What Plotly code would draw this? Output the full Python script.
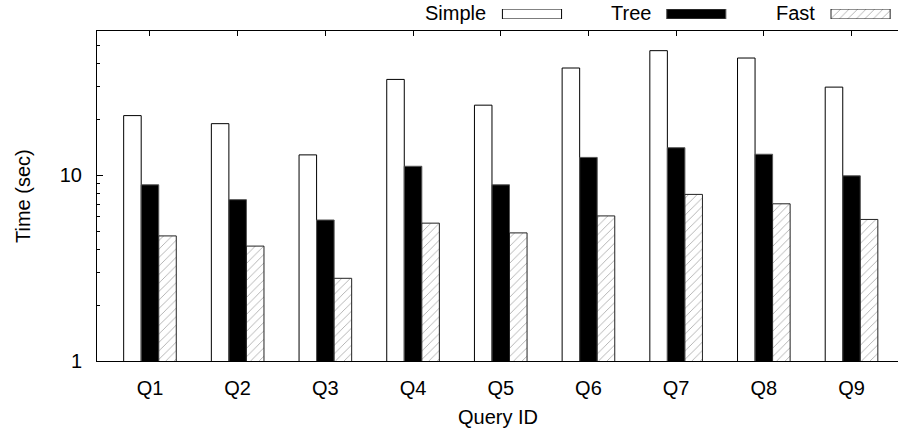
import plotly.graph_objects as go

# ---- data ----
queries = ["Q1", "Q2", "Q3", "Q4", "Q5", "Q6", "Q7", "Q8", "Q9"]
simple_times = [21.0, 19.0, 12.9, 32.9, 23.9, 37.9, 47.0, 42.9, 29.9]
tree_times = [8.9, 7.4, 5.75, 11.2, 8.9, 12.5, 14.1, 13.0, 9.95]
fast_times = [4.72, 4.16, 2.79, 5.53, 4.9, 6.05, 7.9, 7.03, 5.79]
series_names = ["Simple", "Tree", "Fast"]
y_major_ticks = [1, 10]
y_minor_ticks = [2, 3, 4, 5, 6, 7, 8, 9, 20, 30, 40, 50]

FONT = "Liberation Sans, Arial, Helvetica, sans-serif"
FS = 20

styles = {
    "Simple": dict(color="white", line=dict(color="black", width=1)),
    "Tree": dict(color="black", line=dict(color="#555555", width=1)),
    "Fast": dict(color="white", line=dict(color="#222222", width=1),
                 pattern=dict(shape="/", fgcolor="#333333", bgcolor="white",
                              size=6, solidity=0.12, fillmode="overlay")),
}

fig = go.Figure()
for name, vals in zip(series_names, [simple_times, tree_times, fast_times]):
    fig.add_trace(go.Bar(x=queries, y=vals, name=name, marker=styles[name],
                         showlegend=False))

# legend swatches drawn as bars on a small overlay axis above the plot
for i, name in enumerate(series_names):
    fig.add_trace(go.Bar(x=[i], y=[1], base=[0], width=[0.36], marker=styles[name],
                         xaxis="x2", yaxis="y2", showlegend=False, hoverinfo="skip"))
    fig.add_annotation(x=i - 0.18 - 0.085, y=0.5, xref="x2", yref="y2",
                       text=name, showarrow=False, xanchor="right", yanchor="middle",
                       font=dict(family=FONT, size=FS, color="black"), yshift=1)

fig.update_layout(
    width=898, height=431, autosize=False,
    margin=dict(l=97, r=0, t=0, b=70, pad=0),
    paper_bgcolor="white", plot_bgcolor="white",
    barmode="group", bargap=0.4, bargroupgap=0,
    font=dict(family=FONT, size=FS, color="black"),
    xaxis=dict(
        type="category", range=[-0.604, 8.53], anchor="y",
        showline=True, linecolor="black", linewidth=1, mirror="allticks",
        ticks="inside", ticklen=5, tickcolor="black", tickwidth=1,
        showgrid=False, zeroline=False,
        tickfont=dict(family=FONT, size=FS), ticklabelstandoff=9,
    ),
    yaxis=dict(
        type="log", range=[0, 1.778], domain=[0, 0.9141],
        tickvals=y_major_ticks, ticktext=[str(v) for v in y_major_ticks],
        showline=True, linecolor="black", linewidth=1,
        ticks="inside", ticklen=6, tickcolor="black", tickwidth=1,
        minor=dict(tickvals=y_minor_ticks, ticks="inside", ticklen=3,
                   tickcolor="black", tickwidth=1, showgrid=False),
        showgrid=False, zeroline=False,
        tickfont=dict(family=FONT, size=FS), ticklabelstandoff=10,
    ),
    xaxis2=dict(domain=[0.42, 0.9943], range=[-0.6, 2.2], anchor="y2",
                visible=False, fixedrange=True),
    yaxis2=dict(domain=[0.9474, 0.9751], range=[0, 1], anchor="x2",
                visible=False, fixedrange=True),
)

# axis titles
fig.add_annotation(x=0, y=0.5, xref="x domain", yref="y domain", text="Time (sec)",
                   textangle=-90, showarrow=False, xanchor="center", yanchor="middle",
                   xshift=-74, font=dict(family=FONT, size=FS))
fig.add_annotation(x=0.5, y=0, xref="x domain", yref="y domain", text="Query ID",
                   showarrow=False, xanchor="center", yanchor="middle",
                   yshift=-56, font=dict(family=FONT, size=FS))

fig.write_html("out.html")
